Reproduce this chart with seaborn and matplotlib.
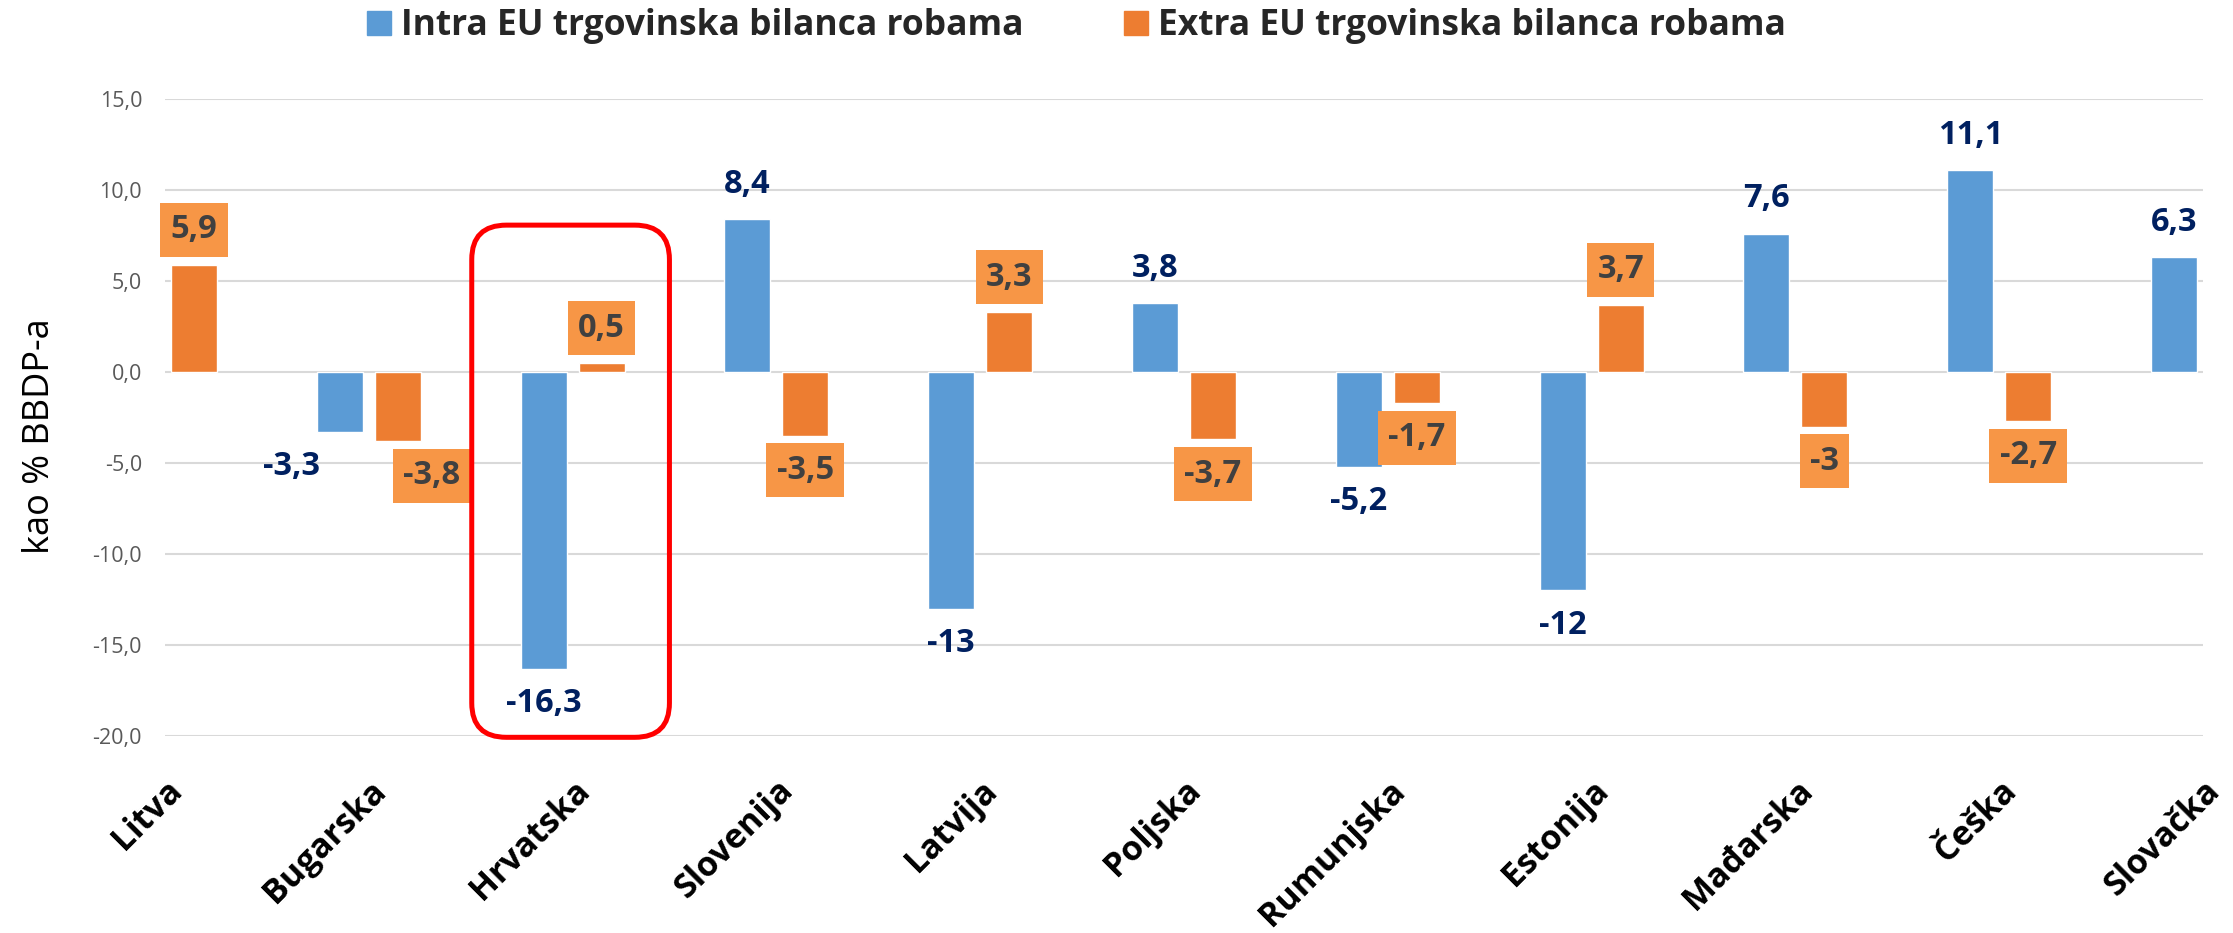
import numpy as np
import pandas as pd
import matplotlib
matplotlib.use("Agg")
import matplotlib.pyplot as plt
from matplotlib.patches import Patch, FancyBboxPatch
from matplotlib.ticker import FuncFormatter
import seaborn as sns

countries = ["Litva", "Bugarska", "Hrvatska", "Slovenija", "Latvija", "Poljska",
             "Rumunjska", "Estonija", "Mađarska", "Češka", "Slovačka"]
intra_eu = [np.nan, -3.3, -16.3, 8.4, -13, 3.8, -5.2, -12, 7.6, 11.1, 6.3]
extra_eu = [5.9, -3.8, 0.5, -3.5, 3.3, -3.7, -1.7, 3.7, -3, -2.7, np.nan]
series = ["Intra EU trgovinska bilanca robama", "Extra EU trgovinska bilanca robama"]
y_ticks = [-20, -15, -10, -5, 0, 5, 10, 15]

blue = "#5B9BD5"
orange = "#ED7D31"
box_orange = "#F79646"
navy = "#002060"

df = pd.DataFrame({
    "zemlja": countries * 2,
    "serija": [series[0]] * len(countries) + [series[1]] * len(countries),
    "vrijednost": intra_eu + extra_eu,
})

sns.set_style("white")
plt.rcParams["font.family"] = ["Open Sans", "DejaVu Sans"]

fig = plt.figure(figsize=(22.33, 9.33), dpi=100)
ax = fig.add_axes([0.0739, 0.2111, 0.9127, 0.6828])

sns.barplot(data=df, x="zemlja", y="vrijednost", hue="serija", hue_order=series,
            palette=[blue, orange], width=0.569, gap=0.206, ax=ax,
            errorbar=None, legend=False, saturation=1)

ax.set_xlim(0, 10)
ax.set_ylim(-20, 15)
ax.set_yticks(y_ticks)
ax.yaxis.set_major_formatter(FuncFormatter(lambda v, p: f"{v:.1f}".replace(".", ",")))
ax.tick_params(axis="y", labelsize=15.5, labelcolor="#595959", length=0, pad=16.5)
ax.set_xticks(range(len(countries)))
ax.set_xticklabels(countries, rotation=45, ha="right", rotation_mode="anchor",
                   fontsize=24.5, fontweight="bold", color="black")
ax.tick_params(axis="x", length=0, pad=27)
ax.set_xlabel("")
ax.set_ylabel("kao % BBDP-a", fontsize=26, color="black")
ax.yaxis.set_label_coords(-0.0525, 0.471)

ax.set_axisbelow(True)
ax.yaxis.grid(True, color="#D9D9D9", linewidth=1.5)
ax.xaxis.grid(False)
for s in ax.spines.values():
    s.set_visible(False)


def fmt(v):
    if float(v).is_integer():
        return f"{int(v)}"
    return f"{v:.1f}".replace(".", ",")


# ručni pomaci oznaka (Bugarska)
label_shift = {(0, 1): -0.235, (1, 1): 0.167}

for si, cont in enumerate(ax.containers):
    for bar in cont:
        h = bar.get_height()
        if np.isnan(h):
            continue
        xc = bar.get_x() + bar.get_width() / 2
        idx = int(round(xc))
        xl = xc + label_shift.get((si, idx), 0)
        off = 25 if h >= 0 else -25
        if si == 0:
            ax.annotate(fmt(h), (xl, h), xytext=(0, off), textcoords="offset points",
                        ha="center", va="center", fontsize=23.5, fontweight="bold",
                        color=navy, annotation_clip=False)
        else:
            ax.annotate(fmt(h), (xl, h), xytext=(0, off), textcoords="offset points",
                        ha="center", va="center", fontsize=23.5, fontweight="bold",
                        color="#404040", annotation_clip=False,
                        bbox=dict(boxstyle="square,pad=0.32", fc=box_orange, ec="none"))

# crveni okvir oko Hrvatske
red_box = FancyBboxPatch((1.505, -20.07), 0.97, 28.14,
                         boxstyle="round,pad=0,rounding_size=0.17",
                         mutation_aspect=11.1, fill=False, ec="#FF0000",
                         lw=3.6, clip_on=False, zorder=5)
ax.add_patch(red_box)

handles = [Patch(color=blue), Patch(color=orange)]
fig.legend(handles, series, loc="center", bbox_to_anchor=(0.482, 0.972), ncol=2,
           frameon=False, prop={"family": ["Open Sans", "DejaVu Sans"], "weight": "bold", "size": 25.5},
           handlelength=0.68, handleheight=0.68, handletextpad=0.28, columnspacing=2.85)

fig.savefig("out.png", dpi=100)
